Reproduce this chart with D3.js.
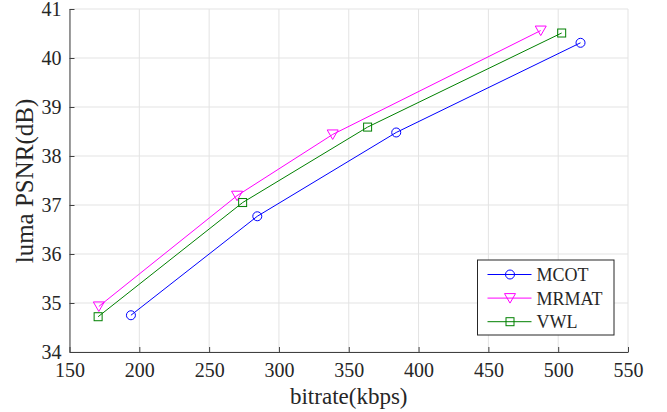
<!DOCTYPE html>
<html>
<head>
<meta charset="utf-8">
<script src="https://cdn.jsdelivr.net/npm/d3@7"></script>
<style>
  body { margin: 0; background: white; }
  svg text { font-family: 'Liberation Serif', 'Times New Roman', Times, 'DejaVu Serif', serif !important; fill: #262626; }
</style>
</head>
<body>
<svg id="chart" width="667" height="412"></svg>
<script>
// Series data (bitrate kbps, luma PSNR dB)
var seriesNames = ["MCOT", "MRMAT", "VWL"];
var mcotRate = [194, 284.5, 384, 516];
var mcotPsnr = [34.75, 36.77, 38.48, 40.31];
var mrmatRate = [171, 270, 338.5, 487.5];
var mrmatPsnr = [34.93, 37.19, 38.44, 40.56];
var vwlRate = [170.5, 274, 363.5, 502.5];
var vwlPsnr = [34.72, 37.05, 38.59, 40.51];

var xTicks = [150, 200, 250, 300, 350, 400, 450, 500, 550];
var yTicks = [34, 35, 36, 37, 38, 39, 40, 41];

// Colours
var mcotColour = '#0000ff';
var mrmatColour = '#ff00ff';
var vwlColour = '#008000';
var axisColour = '#404040';
var gridColour = '#e3e3e3';
var serif = "'Liberation Serif', 'Times New Roman', Times, 'DejaVu Serif', serif";

var margin = {left: 69.5, right: 39, top: 9, bottom: 60};
var width = 667, height = 412;

var svg = d3.select("#chart").attr("font-family", serif);

var x = d3.scaleLinear().domain([150, 550]).range([margin.left, width - margin.right]);
var y = d3.scaleLinear().domain([34, 41]).range([height - margin.bottom, margin.top]);

var series = [
  {name: seriesNames[0], rate: mcotRate, psnr: mcotPsnr, colour: mcotColour, marker: "circle"},
  {name: seriesNames[1], rate: mrmatRate, psnr: mrmatPsnr, colour: mrmatColour, marker: "triangle"},
  {name: seriesNames[2], rate: vwlRate, psnr: vwlPsnr, colour: vwlColour, marker: "square"}
];

// Grid
svg.append("g").selectAll("line.vgrid")
  .data(xTicks)
  .enter().append("line")
  .attr("x1", function (d) { return x(d); })
  .attr("x2", function (d) { return x(d); })
  .attr("y1", y(34))
  .attr("y2", y(41))
  .attr("stroke", gridColour)
  .attr("stroke-width", 1);

svg.append("g").selectAll("line.hgrid")
  .data(yTicks)
  .enter().append("line")
  .attr("x1", x(150))
  .attr("x2", x(550))
  .attr("y1", function (d) { return y(d); })
  .attr("y2", function (d) { return y(d); })
  .attr("stroke", gridColour)
  .attr("stroke-width", 1);

// Axes (ticks point inward)
var xAxis = svg.append("g")
  .attr("transform", "translate(0," + y(34) + ")")
  .call(d3.axisBottom(x).tickValues(xTicks).tickFormat(d3.format("d"))
    .tickSizeInner(-5).tickSizeOuter(0).tickPadding(14));
var yAxis = svg.append("g")
  .attr("transform", "translate(" + x(150) + ",0)")
  .call(d3.axisLeft(y).tickValues(yTicks).tickFormat(d3.format("d"))
    .tickSizeInner(-5).tickSizeOuter(0).tickPadding(8));

[xAxis, yAxis].forEach(function (ax) {
  ax.attr("font-family", serif).attr("font-size", 20);
  ax.select(".domain").attr("stroke", axisColour).attr("stroke-width", 1);
  ax.selectAll(".tick line").attr("stroke", axisColour);
  ax.selectAll(".tick text").attr("fill", "#262626");
});
xAxis.selectAll(".tick text").attr("y", 11);

// Axis labels
svg.append("text")
  .attr("x", (x(150) + x(550)) / 2)
  .attr("y", 404)
  .attr("text-anchor", "middle")
  .attr("font-size", 23)
  .text("bitrate(kbps)");

svg.append("text")
  .attr("transform", "translate(33,181) rotate(-90)")
  .attr("text-anchor", "middle")
  .attr("font-size", 25)
  .text("luma PSNR(dB)");

function drawMarker(g, type, colour) {
  if (type === "circle") {
    g.append("circle").attr("r", 4.5).attr("fill", "none").attr("stroke", colour);
  } else if (type === "triangle") {
    g.append("path").attr("d", "M-5.5,-4.5L5.5,-4.5L0,5z").attr("fill", "none").attr("stroke", colour);
  } else {
    g.append("rect").attr("x", -4).attr("y", -4).attr("width", 8).attr("height", 8)
      .attr("fill", "none").attr("stroke", colour);
  }
}

// Lines and markers
var line = d3.line()
  .x(function (d) { return x(d[0]); })
  .y(function (d) { return y(d[1]); });

series.forEach(function (s) {
  var pts = s.rate.map(function (r, i) { return [r, s.psnr[i]]; });
  svg.append("path")
    .attr("d", line(pts))
    .attr("fill", "none")
    .attr("stroke", s.colour)
    .attr("stroke-width", 1);
  pts.forEach(function (p) {
    var g = svg.append("g").attr("transform", "translate(" + x(p[0]) + "," + y(p[1]) + ")");
    drawMarker(g, s.marker, s.colour);
  });
});

// Legend
var legend = svg.append("g").attr("transform", "translate(477.5,260)");
legend.append("rect")
  .attr("width", 136.5)
  .attr("height", 75)
  .attr("fill", "white")
  .attr("stroke", "#262626")
  .attr("stroke-width", 1);

series.forEach(function (s, i) {
  var cy = 14.5 + i * 23.6;
  legend.append("line")
    .attr("x1", 10).attr("x2", 54)
    .attr("y1", cy).attr("y2", cy)
    .attr("stroke", s.colour)
    .attr("stroke-width", 1);
  var g = legend.append("g").attr("transform", "translate(32.5," + cy + ")");
  drawMarker(g, s.marker, s.colour);
  legend.append("text")
    .attr("x", 59)
    .attr("y", cy + 6.5)
    .attr("font-size", 18)
    .text(s.name);
});
</script>
</body>
</html>
